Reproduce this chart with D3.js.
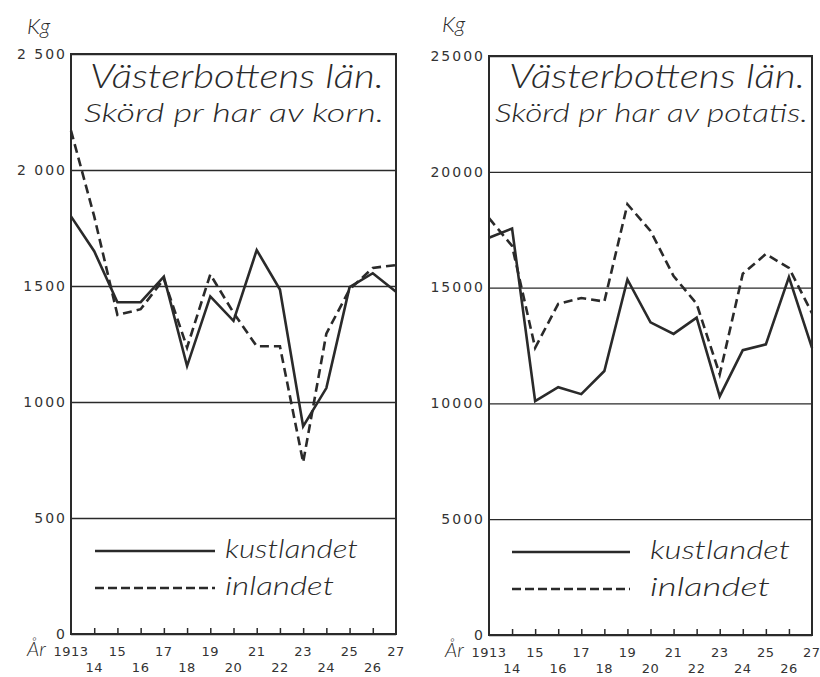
<!DOCTYPE html>
<html lang="sv">
<head>
<meta charset="UTF-8">
<title>Västerbottens län</title>
<script src="https://cdn.jsdelivr.net/npm/d3@7"></script>
<style>
  body { margin: 0; background: #fff; }
  .hand { font-family: Lato, "Open Sans", sans-serif; font-style: italic; font-weight: 300; fill: #2a2a2a; }
  .num { font-family: "DejaVu Sans", sans-serif; font-size: 14px; fill: #333; letter-spacing: 2px; }
  .yr { font-family: "DejaVu Sans", sans-serif; font-size: 13px; fill: #333; letter-spacing: 0.5px; }
</style>
</head>
<body>
<div id="chart"></div>
<script>
// years on the x axis
const years = d3.range(1913, 1928);

// korn, kg per hektar
const kornKust   = [1800, 1650, 1430, 1430, 1540, 1155, 1455, 1350, 1655, 1485, 895, 1060, 1495, 1555, 1475];
const kornInland = [2170, 1800, 1375, 1400, 1530, 1235, 1550, 1385, 1240, 1240, 740, 1295, 1485, 1578, 1590];

// potatis, kg per hektar
const potatisKust   = [17150, 17550, 10100, 10700, 10400, 11400, 15350, 13500, 13000, 13700, 10300, 12300, 12550, 15450, 12400];
const potatisInland = [18000, 16800, 12400, 14300, 14550, 14400, 18600, 17450, 15500, 14300, 11250, 15600, 16450, 15850, 13900];

const kornTicks = [0, 500, 1000, 1500, 2000, 2500];
const kornTickLabels = ["0", "500", "1000", "1500", "2 000", "2 500"];
const potatisTicks = [0, 5000, 10000, 15000, 20000, 25000];
const potatisTickLabels = ["0", "5000", "10000", "15000", "20000", "25000"];

const legendNames = ["kustlandet", "inlandet"];

const W = 820, H = 677;
const ink = "#2a2a2a";

const svg = d3.select("#chart").append("svg")
  .attr("width", W).attr("height", H);

const panels = [
  { x0: 71, x1: 396, y0: 54, y1: 634, max: 2500, ticks: kornTicks, labels: kornTickLabels,
    kust: kornKust, inland: kornInland,
    title: "Västerbottens län.", sub: "Skörd pr har av korn.",
    tBox: [90, 294, 88], sBox: [84, 300, 122], kg: [27, 34],
    leg: { lx: 95, lw: 120, y: 551, tx: 225, tw: [133, 109] } },
  { x0: 489, x1: 812, y0: 56, y1: 635, max: 25000, ticks: potatisTicks, labels: potatisTickLabels,
    kust: potatisKust, inland: potatisInland,
    title: "Västerbottens län.", sub: "Skörd pr har av potatis.",
    tBox: [509, 296, 88], sBox: [495, 313, 122], kg: [442, 32],
    leg: { lx: 512, lw: 118, y: 552, tx: 650, tw: [140, 120] } }
];

panels.forEach(p => {
  const g = svg.append("g");
  const x = d3.scaleLinear().domain([1913, 1927]).range([p.x0, p.x1]);
  const y = d3.scaleLinear().domain([0, p.max]).range([p.y1, p.y0]);

  // y axis + grid lines
  const yAxis = d3.axisLeft(y)
    .tickValues(p.ticks)
    .tickSize(-(p.x1 - p.x0))
    .tickPadding(4)
    .tickFormat((d, i) => p.labels[i]);
  const ya = g.append("g").attr("transform", `translate(${p.x0},0)`).call(yAxis);
  ya.select(".domain").remove();
  ya.selectAll(".tick line").attr("stroke", ink).attr("stroke-width", 1.3);
  ya.selectAll(".tick text").attr("class", "num").attr("dy", "0.3em");

  // frame
  g.append("rect")
    .attr("x", p.x0).attr("y", p.y0)
    .attr("width", p.x1 - p.x0).attr("height", p.y1 - p.y0)
    .attr("fill", "none").attr("stroke", ink).attr("stroke-width", 2);

  // x ticks pointing up
  const xAxis = d3.axisBottom(x)
    .tickValues(years.slice(1, -1))
    .tickSizeInner(-6).tickSizeOuter(0)
    .tickFormat("");
  const xa = g.append("g").attr("transform", `translate(0,${p.y1})`).call(xAxis);
  xa.select(".domain").remove();
  xa.selectAll(".tick line").attr("stroke", ink).attr("stroke-width", 1.5);

  // x labels in two rows
  g.selectAll(".yr").data(years).enter().append("text")
    .attr("class", "yr")
    .attr("text-anchor", (d, i) => i === years.length - 1 && p.x1 > 800 ? "start" : "middle")
    .attr("x", (d, i) => i === years.length - 1 && p.x1 > 800 ? x(d) - 9 : x(d))
    .attr("y", (d, i) => i % 2 === 0 ? p.y1 + 22 : p.y1 + 38)
    .text((d, i) => i === 0 ? "1913" : String(d).slice(2));

  g.append("text").attr("class", "hand")
    .attr("x", p.x0 - 44).attr("y", p.y1 + 22)
    .attr("font-size", 20).text("År");

  g.append("text").attr("class", "hand")
    .attr("x", p.kg[0]).attr("y", p.kg[1])
    .attr("font-size", 22).text("Kg");

  // titles
  g.append("text").attr("class", "hand")
    .attr("x", p.tBox[0]).attr("y", p.tBox[2])
    .attr("font-size", 34)
    .attr("textLength", p.tBox[1]).attr("lengthAdjust", "spacingAndGlyphs")
    .text(p.title);
  g.append("text").attr("class", "hand")
    .attr("x", p.sBox[0]).attr("y", p.sBox[2])
    .attr("font-size", 25)
    .attr("textLength", p.sBox[1]).attr("lengthAdjust", "spacingAndGlyphs")
    .text(p.sub);

  // series
  const line = d3.line().x((d, i) => x(years[i])).y(d => y(d));
  g.append("path").attr("d", line(p.kust))
    .attr("fill", "none").attr("stroke", ink).attr("stroke-width", 2.6);
  g.append("path").attr("d", line(p.inland))
    .attr("fill", "none").attr("stroke", ink).attr("stroke-width", 2.6)
    .attr("stroke-dasharray", "9,5");

  // legend
  [0, 1].forEach(k => {
    const ly = p.leg.y + k * 37;
    g.append("line")
      .attr("x1", p.leg.lx).attr("x2", p.leg.lx + p.leg.lw)
      .attr("y1", ly).attr("y2", ly)
      .attr("stroke", ink).attr("stroke-width", 2.6)
      .attr("stroke-dasharray", k === 1 ? "9,4" : null);
    g.append("text").attr("class", "hand")
      .attr("x", p.leg.tx).attr("y", ly + 7)
      .attr("font-size", 26)
      .attr("textLength", p.leg.tw[k]).attr("lengthAdjust", "spacingAndGlyphs")
      .text(legendNames[k]);
  });
});
</script>
</body>
</html>
